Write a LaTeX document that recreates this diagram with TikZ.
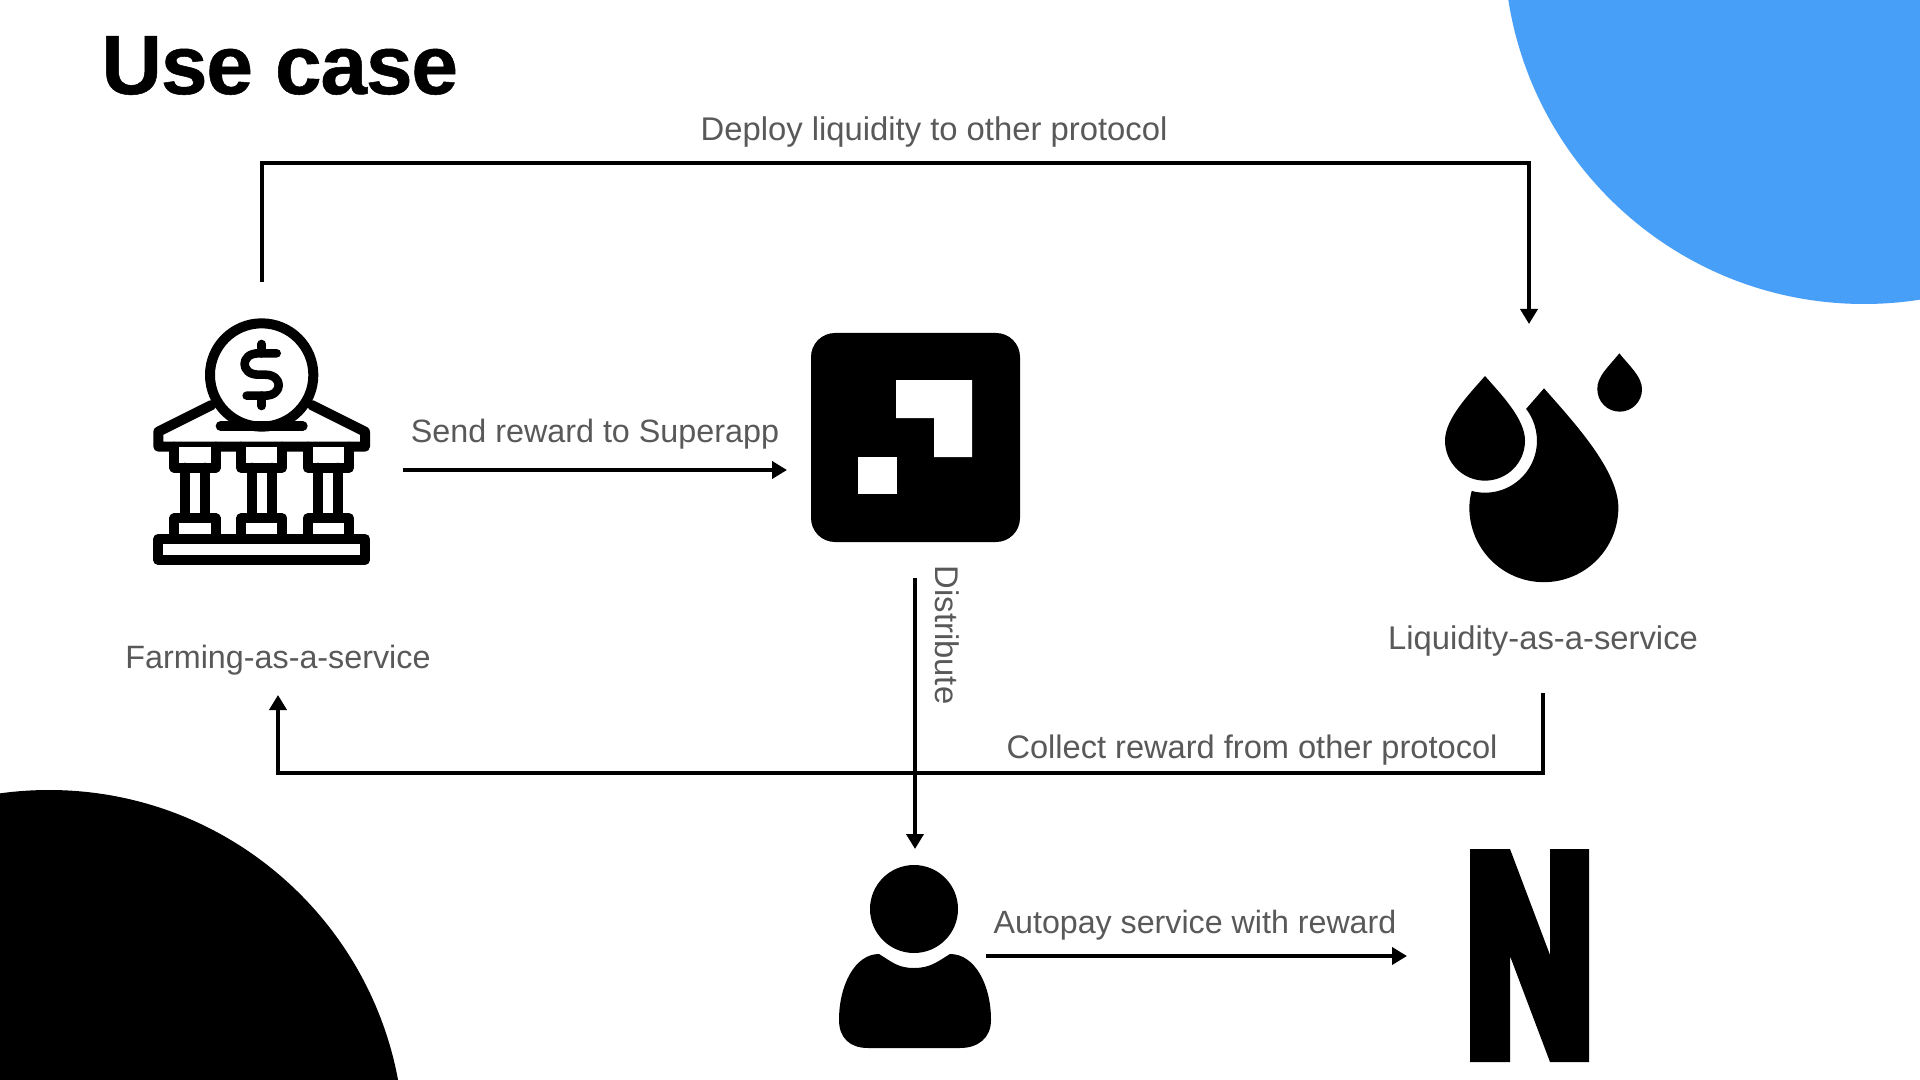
\documentclass[tikz,border=0pt]{standalone}
\usepackage{fontspec}
\setmainfont{Liberation Sans}
\newfontfamily\titlefont[FakeBold=0.6,LetterSpace=-1.5]{Liberation Sans}
\usetikzlibrary{arrows.meta}
\definecolor{bluedisc}{HTML}{479FF8}
\definecolor{labelgray}{HTML}{595959}
\tikzset{
  conn/.style={line width=1.9pt,draw=black,line join=miter},
  arrowconn/.style={conn,-{Triangle[length=7.5pt,width=8.5pt]}},
  lbl/.style={text=labelgray,font=\fontsize{#1}{19}\selectfont,inner sep=0pt,anchor=base},
  glyph/.style={draw=black,line width=5pt,line join=round,line cap=round,fill=white},
  solidicon/.style={fill=black,draw=none}
}
\begin{document}
\begin{tikzpicture}[x=0.5pt,y=-0.5pt]
\useasboundingbox (0,0) rectangle (1920,1080);
\fill[white] (0,0) rectangle (1920,1080);
\begin{scope}
  \clip (0,0) rectangle (1920,1080);
  \fill[bluedisc] (1864,-56) circle[radius=360];
  \fill[black] (49,1145) circle[radius=355];
\end{scope}
\node[anchor=base west,inner sep=0pt,font=\fontsize{42}{50}\selectfont\titlefont\bfseries] (title) at (101,94) {Use case};

% bank icon
\begin{scope}[shift={(130,300)},scale=1/3]
  \draw[glyph] (245,315) -- (85,395) -- (85,440) -- (705,440) -- (705,395) -- (545,315);
  \foreach \c in {195,395,595}{
    \draw[glyph] (\c-62,440) -- (\c-62,503) -- (\c+62,503) -- (\c+62,440);
    \draw[glyph] (\c-30,503) -- (\c-30,655);
    \draw[glyph] (\c+30,503) -- (\c+30,655);
    \draw[glyph] (\c-62,717) -- (\c-62,655) -- (\c+62,655) -- (\c+62,717);
  }
  \draw[glyph] (85,717) rectangle (705,780);
  \draw[glyph] (395,225) circle[radius=155];
  \draw[glyph] (272,378) -- (518,378);
  \draw[glyph,fill=none,line width=4.3pt]
    (440,160) -- (385,160) .. controls (330,160) and (330,224) .. (385,224)
    -- (405,224) .. controls (460,224) and (460,287) .. (405,287) -- (350,287);
  \draw[glyph,fill=none,line width=4.3pt] (395,132) -- (395,160);
  \draw[glyph,fill=none,line width=4.3pt] (395,287) -- (395,318);
\end{scope}

% superapp logo
\fill[black,rounded corners=12pt] (811,333) rectangle (1020,542);
\fill[white] (896,380) -- (972,380) -- (972,457) -- (934,457) -- (934,418) -- (896,418) -- cycle;
\fill[white] (858,457) rectangle (897,494);

% drops
\begin{scope}[shift={(1400,330)},scale=1/3]
  \fill[solidicon] (255,138) .. controls (300,190) and (375,265) .. (375,332)
    arc[start angle=0,end angle=180,radius=120]
    .. controls (135,265) and (210,190) .. (255,138) -- cycle;
  \fill[solidicon] (658,70) .. controls (690,110) and (726,140) .. (726,178)
    arc[start angle=0,end angle=180,radius=67]
    .. controls (590,140) and (626,110) .. (658,70) -- cycle;
  \fill[solidicon] (432,175) .. controls (520,275) and (655,420) .. (655,533)
    arc[start angle=0,end angle=180,radius=223.5]
    .. controls (208,515) and (211,498) .. (215,483)
    arc[start angle=104.8,end angle=-37.7,radius=156] -- cycle;
\end{scope}

% user icon
\fill[solidicon] (914,909) circle[radius=44];
\fill[solidicon] (879,954) .. controls (892,962) and (898,968) .. (914,968)
  .. controls (930,968) and (937,962) .. (950,954)
  .. controls (975,954) and (991,985) .. (991,1020)
  .. controls (991,1038) and (978,1048) .. (960,1048)
  -- (868,1048) .. controls (850,1048) and (839,1038) .. (839,1020)
  .. controls (839,985) and (855,954) .. (879,954) -- cycle;

% N mark
\fill[solidicon] (1470,849) -- (1510,849) -- (1550,955) -- (1550,849) -- (1589,849)
  -- (1589,1062) -- (1550,1062) -- (1510,956) -- (1510,1062) -- (1470,1062) -- cycle;

% connector ends
\coordinate (deployS) at (262,282);
\coordinate (deployA) at (262,163);
\coordinate (deployB) at (1529,163);
\coordinate (deployE) at (1529,324);
\coordinate (sendS) at (403,470);
\coordinate (sendE) at (787,470);
\coordinate (distS) at (915,578);
\coordinate (distE) at (915,849);
\coordinate (collS) at (1543,693);
\coordinate (collA) at (1543,773);
\coordinate (collB) at (278,773);
\coordinate (collE) at (278,695);
\coordinate (autoS) at (986,956);
\coordinate (autoE) at (1407,956);

\draw[arrowconn] (deployS) -- (deployA) -- (deployB) -- (deployE);
\draw[arrowconn] (sendS) -- (sendE);
\draw[arrowconn] (distS) -- (distE);
\draw[arrowconn] (collS) -- (collA) -- (collB) -- (collE);
\draw[arrowconn] (autoS) -- (autoE);

% labels
\node[lbl=16.4] (l1) at (934,141) {Deploy liquidity to other protocol};
\node[lbl=16.15] (l2) at (595,442) {Send reward to Superapp};
\node[lbl=16.15] (l3) at (278,668) {Farming-as-a-service};
\node[lbl=16.4] (l4) at (1543,649) {Liquidity-as-a-service};
\node[lbl=16.3] (l5) at (1252,758) {Collect reward from other protocol};
\node[lbl=16.1] (l6) at (1195,933) {Autopay service with reward};
\node[lbl=16.4,rotate=-90] (l7) at (935,635) {Distribute};
\end{tikzpicture}
\end{document}
